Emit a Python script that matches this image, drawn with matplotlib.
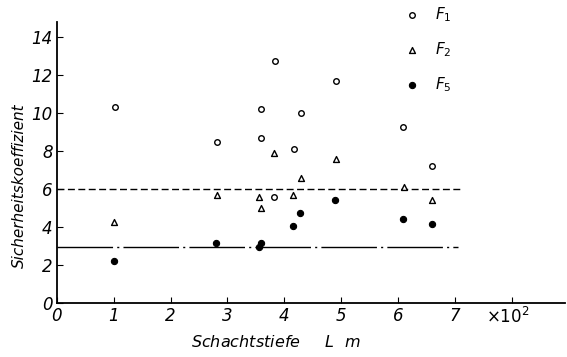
import matplotlib
matplotlib.use("Agg")
import matplotlib.pyplot as plt

# Shaft depth (x 10^2 m) and safety factors
f1_depth = [1.02, 2.82, 3.59, 3.59, 3.84, 3.82, 4.17, 4.30, 4.91, 6.09, 6.60]
f1_value = [10.3, 8.5, 10.2, 8.7, 12.75, 5.6, 8.1, 10.0, 11.7, 9.25, 7.2]

f2_depth = [1.00, 2.82, 3.56, 3.59, 3.82, 4.15, 4.30, 4.91, 6.11, 6.60]
f2_value = [4.25, 5.7, 5.6, 5.0, 7.9, 5.7, 6.6, 7.6, 6.1, 5.4]

f5_depth = [1.00, 2.80, 3.59, 3.56, 4.15, 4.28, 4.89, 6.09, 6.60]
f5_value = [2.2, 3.15, 3.15, 2.95, 4.05, 4.75, 5.4, 4.4, 4.15]

limit_upper = 6.0
limit_lower = 2.95

x_ticks = [0, 1, 2, 3, 4, 5, 6, 7]
y_ticks = [0, 2, 4, 6, 8, 10, 12, 14]

plt.rcParams['font.family'] = ['DejaVu Sans']

fig = plt.figure(figsize=(5.67, 3.57), dpi=100)
ax = fig.add_axes([0.1005, 0.1513, 0.896, 0.787])

ax.hlines(limit_upper, 0, 7.15, colors='black', linewidth=1.0,
          linestyles=(0, (5, 2.5)))
ax.hlines(limit_lower, 0, 7.05, colors='black', linewidth=1.0,
          linestyles=(0, (40, 3, 1.5, 3)))

ax.scatter(f1_depth, f1_value, s=16, marker='o', facecolors='white',
           edgecolors='black', linewidths=1.0, label='$F_1$', zorder=3)
ax.scatter(f2_depth, f2_value, s=18, marker='^', facecolors='white',
           edgecolors='black', linewidths=1.0, label='$F_2$', zorder=3)
ax.scatter(f5_depth, f5_value, s=20, marker='o', facecolors='black',
           edgecolors='black', linewidths=0.8, label='$F_5$', zorder=3)

ax.set_xlim(0, 8.94)
ax.set_ylim(0, 14.8)
ax.set_xticks(x_ticks + [8])
ax.set_xticklabels([str(t) for t in x_ticks] + [''])
ax.set_yticks(y_ticks)
ax.set_yticklabels([str(t) for t in y_ticks])

for side in ('top', 'right'):
    ax.spines[side].set_visible(False)
for side in ('left', 'bottom'):
    ax.spines[side].set_linewidth(1.3)

ax.tick_params(direction='in', length=4, width=0.8, labelsize=12, pad=3)
for lab in ax.get_xticklabels() + ax.get_yticklabels():
    lab.set_fontstyle('italic')

ax.set_xlabel('Schachtstiefe     $L$  m', fontsize=11.5, fontstyle='italic')
ax.xaxis.set_label_coords(0.43, -0.11)
ax.set_ylabel('Sicherheitskoeffizient', fontsize=11, fontstyle='italic')
ax.yaxis.set_label_coords(-0.06, 0.416)

ax.text(7.55, -0.75, r'$\times10^2$', fontsize=12, fontstyle='italic',
        va='center', ha='left')

leg = fig.legend(loc='upper left', bbox_to_anchor=(0.699, 0.985), frameon=False,
                 fontsize=11, labelspacing=1.05, handletextpad=0.5,
                 borderaxespad=0, borderpad=0)

fig.savefig('out.png', dpi=100)
